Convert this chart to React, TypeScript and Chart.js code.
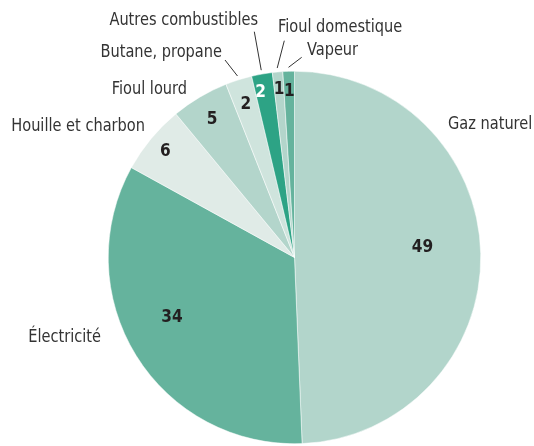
import React, { useEffect, useRef } from "react";
import { Chart, registerables } from "chart.js";

Chart.register(...registerables);

const categories = [
  "Gaz naturel",
  "Électricité",
  "Houille et charbon",
  "Fioul lourd",
  "Butane, propane",
  "Autres combustibles",
  "Fioul domestique",
  "Vapeur",
];
const values = [49.4, 33.7, 6.0, 5.0, 2.3, 1.8, 0.9, 1.0];
const valueLabels = ["49", "34", "6", "5", "2", "2", "1", "1"];
const colors = ["#b2d5cb", "#65b39d", "#e0ebe7", "#b3d5cb", "#cfe4dd", "#2da385", "#b3d5cb", "#65b39d"];

const LABEL_FONT = '"DejaVu Sans Condensed", "Liberation Sans", sans-serif';
const NUM_FONT = '"DejaVu Sans Condensed", "Liberation Sans", sans-serif';

// layout: inner number placement (radius fraction, angle tweak in degrees)
const numPlace = [
  [0.69, -4], [0.73, 6], [0.9, 0], [0.87, 0], [0.87, 0], [0.91, -1.5], [0.91, 0], [0.9, 0],
];
// layout: outside label placement relative to pie centre
const labelPlace: [number, number, CanvasTextAlign][] = [
  [153.5, -133.5, "left"],
  [-193.5, 80, "right"],
  [-149.5, -131, "right"],
  [-107.5, -168.5, "right"],
  [-72.5, -205, "right"],
  [-36.5, -237.5, "right"],
  [-16.5, -230, "left"],
  [12.5, -207.5, "left"],
];
// leader lines ends relative to centre (null = none)
const leaderEnd: ([number, number] | null)[] = [
  null, null, null, null, [-69.5, -197.5], [-40.2, -225.8], [-10.2, -216.8], [7.2, -200.2],
];

function narrowText(ctx: any, text: string, px: number, py: number, sx: number) {
  ctx.save();
  ctx.translate(px, py);
  ctx.scale(sx, 1);
  ctx.fillText(text, 0, 0);
  ctx.restore();
}

const labelPlugin = {
  id: "pieLabels",
  afterDatasetsDraw(chart: any) {
    const ctx = chart.ctx;
    const meta = chart.getDatasetMeta(0);
    ctx.save();
    meta.data.forEach((arc: any, i: number) => {
      const { x, y, startAngle, endAngle, outerRadius } = arc.getProps(
        ["x", "y", "startAngle", "endAngle", "outerRadius"],
        true
      );
      const mid = (startAngle + endAngle) / 2 + (numPlace[i][1] * Math.PI) / 180;
      const r = outerRadius * numPlace[i][0];
      ctx.font = `bold 18px ${NUM_FONT}`;
      ctx.fillStyle = i === 5 ? "#ffffff" : "#231f20";
      ctx.textAlign = "center";
      ctx.textBaseline = "middle";
      narrowText(ctx, valueLabels[i], x + Math.cos(mid) * r, y + Math.sin(mid) * r + 1, 0.95);

      const lp = labelPlace[i];
      ctx.font = `18px ${LABEL_FONT}`;
      ctx.fillStyle = "#333333";
      ctx.textAlign = lp[2];
      narrowText(ctx, categories[i], x + lp[0], y + lp[1], 0.9);

      const le = leaderEnd[i];
      if (le) {
        const m = (startAngle + endAngle) / 2;
        const r0 = outerRadius + 4;
        ctx.beginPath();
        ctx.strokeStyle = "#333333";
        ctx.lineWidth = 1;
        ctx.moveTo(x + Math.cos(m) * r0, y + Math.sin(m) * r0);
        ctx.lineTo(x + le[0], y + le[1]);
        ctx.stroke();
      }
    });
    ctx.restore();
  },
};

export default function App() {
  const ref = useRef<HTMLCanvasElement>(null);
  useEffect(() => {
    if (!ref.current) return;
    const chart = new Chart(ref.current, {
      type: "pie",
      data: {
        labels: categories,
        datasets: [
          {
            data: values,
            backgroundColor: colors,
            borderColor: "#ffffff",
            borderWidth: 0.5,
          },
        ],
      },
      options: {
        responsive: false,
        maintainAspectRatio: false,
        animation: false,
        layout: { padding: { left: 108, right: 53, top: 71, bottom: 2 } },
        plugins: {
          legend: { display: false },
          tooltip: { enabled: false },
        },
      },
      plugins: [labelPlugin],
    });
    return () => chart.destroy();
  }, []);
  return (
    <div style={{ position: "absolute", left: 0, top: 0, width: 534, height: 446, background: "#fff" }}>
      <canvas ref={ref} width={534} height={446} style={{ width: 534, height: 446 }} />
    </div>
  );
}
